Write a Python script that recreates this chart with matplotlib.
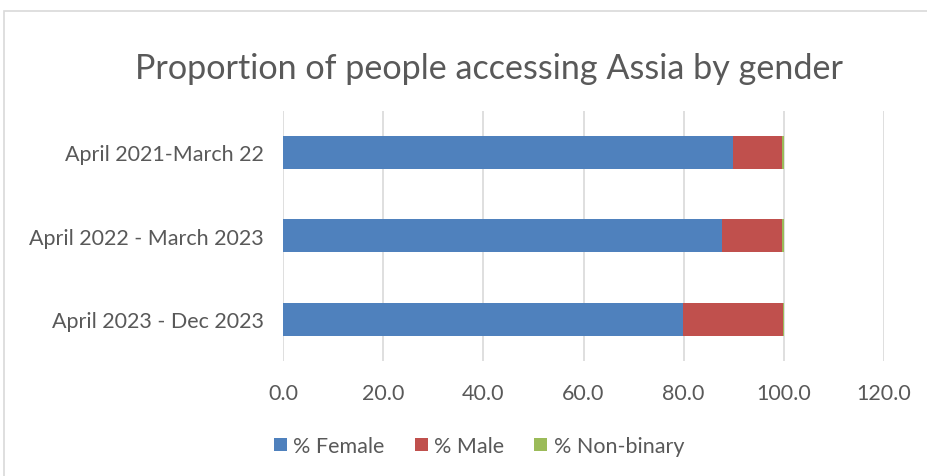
import matplotlib
matplotlib.use("Agg")
import matplotlib.pyplot as plt
from matplotlib.patches import Rectangle

categories = ["April 2021-March 22", "April 2022 - March 2023", "April 2023 - Dec 2023"]
female = [89.8, 87.7, 79.9]
male = [9.9, 12.0, 20.0]
nonbinary = [0.25, 0.3, 0.1]
series_names = ["% Female", "% Male", "% Non-binary"]
colors = ["#4F81BD", "#C0504D", "#9BBB59"]
xticks = [0, 20, 40, 60, 80, 100, 120]

plt.rcParams['font.family'] = ['Lato', 'DejaVu Sans']
W, H = 928, 477
fig = plt.figure(figsize=(W/100, H/100), dpi=100)
fig.patches.append(Rectangle((4/W, -0.2), 1.2, (H-12)/H + 0.2, transform=fig.transFigure,
                             fill=False, edgecolor="#D9D9D9", linewidth=1.2))

ax = fig.add_axes([283/W, 1-362/H, (884-283)/W, (362-111.5)/H])
y = list(range(len(categories)))
left = [0]*3
for vals, name, c in zip([female, male, nonbinary], series_names, colors):
    ax.barh(y, vals, left=left, height=0.4, color=c, label=name, zorder=3)
    left = [a+b for a, b in zip(left, vals)]

ax.set_ylim(2.5, -0.5)
ax.set_xlim(0, 120)
ax.set_xticks(xticks)
ax.set_xticklabels([f"{v:.1f}" for v in xticks])
ax.set_yticks(y)
ax.set_yticklabels(categories)
ax.grid(axis='x', color="#D9D9D9", linewidth=1.2, zorder=0)
for s in ax.spines.values():
    s.set_visible(False)
ax.tick_params(length=0, labelsize=15.5, colors="#595959", pad=14)
ax.tick_params(axis='x', pad=16)

fig.text(489/W, 1-69/H, "Proportion of people accessing Assia by gender",
         ha='center', va='center', fontsize=24.6, color="#595959")
leg = fig.legend(loc='center', bbox_to_anchor=(479/W, 1-447/H), ncol=3, frameon=False,
                 fontsize=15.5, handlelength=0.6, handleheight=0.6, handletextpad=0.3,
                 columnspacing=1.4)
for t in leg.get_texts():
    t.set_color("#595959")

fig.savefig("out.png", dpi=100)
